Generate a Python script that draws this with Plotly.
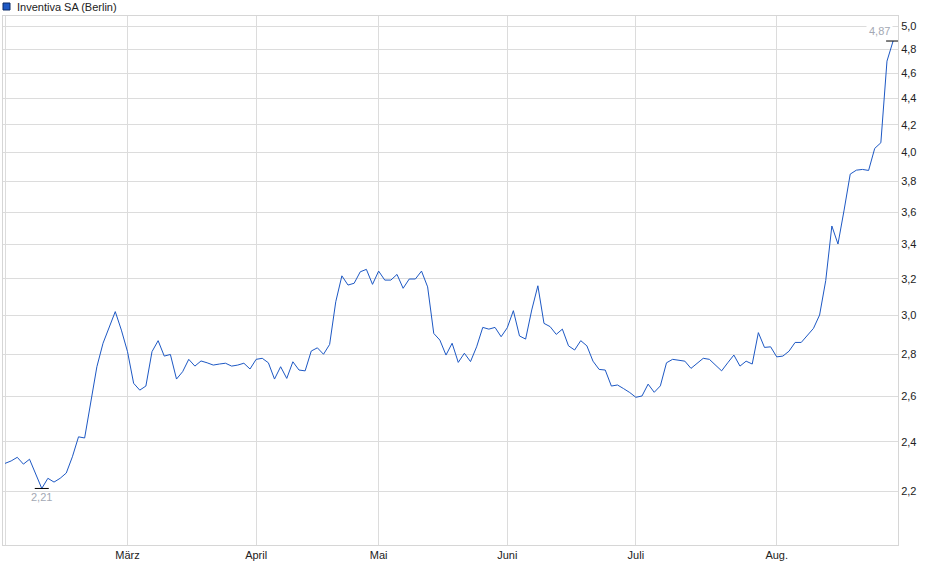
import numpy as np
import plotly.graph_objects as go

# daily closing prices (Berlin), one value per trading day, Feb - Aug
prices = [2.31, 2.32, 2.335, 2.307, 2.327, 2.27, 2.21, 2.25, 2.235, 2.25,
          2.271, 2.337, 2.421, 2.416, 2.569, 2.74, 2.856, 2.941, 3.02, 2.923,
          2.814, 2.661, 2.629, 2.648, 2.814, 2.869, 2.792, 2.80, 2.681, 2.716,
          2.776, 2.743, 2.768, 2.759, 2.748, 2.753, 2.757, 2.743, 2.748, 2.757,
          2.729, 2.776, 2.781, 2.759, 2.681, 2.74, 2.684, 2.764, 2.724, 2.72,
          2.817, 2.833, 2.801, 2.85, 3.073, 3.217, 3.165, 3.175, 3.24, 3.254,
          3.169, 3.244, 3.193, 3.193, 3.225, 3.147, 3.199, 3.199, 3.244, 3.155,
          2.906, 2.872, 2.797, 2.856, 2.761, 2.806, 2.765, 2.838, 2.937, 2.928,
          2.937, 2.889, 2.935, 3.025, 2.893, 2.877, 3.029, 3.161, 2.958, 2.941,
          2.901, 2.928, 2.843, 2.822, 2.869, 2.843, 2.767, 2.727, 2.724, 2.648,
          2.653, 2.636, 2.618, 2.596, 2.602, 2.657, 2.619, 2.649, 2.759, 2.776,
          2.772, 2.767, 2.732, 2.757, 2.781, 2.776, 2.748, 2.72, 2.759, 2.797,
          2.743, 2.767, 2.753, 2.91, 2.835, 2.838, 2.788, 2.792, 2.816, 2.86,
          2.86, 2.898, 2.932, 3.002, 3.19, 3.513, 3.403, 3.613, 3.85, 3.877,
          3.882, 3.875, 4.029, 4.069, 4.70, 4.87]

# first trading day of each month (index into prices)
month_pos = [0, 20, 41, 61, 82, 103, 126]
month_labels = ["", "März", "April", "Mai", "Juni", "Juli", "Aug."]

y_ticks = [2.2, 2.4, 2.6, 2.8, 3.0, 3.2, 3.4, 3.6, 3.8, 4.0, 4.2, 4.4, 4.6, 4.8, 5.0]

series_name = "Inventiva SA (Berlin)"

days = np.arange(len(prices))
lo_i = int(np.argmin(prices))
hi_i = int(np.argmax(prices))

def fmt(v):
    return f"{v:.2f}".replace(".", ",")

fig = go.Figure()

fig.add_trace(go.Scatter(x=days, y=prices, mode="lines",
                         line=dict(color="#1d58c4", width=1),
                         showlegend=False, hoverinfo="skip"))

# small black markers at min and max
fig.add_trace(go.Scatter(x=[days[lo_i], days[hi_i]], y=[prices[lo_i], prices[hi_i]],
                         mode="markers",
                         marker=dict(symbol="line-ew", size=10,
                                     line=dict(color="black", width=1)),
                         showlegend=False, hoverinfo="skip"))

fig.add_annotation(x=days[lo_i], y=np.log10(prices[lo_i]), text=fmt(prices[lo_i]),
                   showarrow=False, xanchor="center", yanchor="top", yshift=-1,
                   font=dict(size=11, color="#a3a8b4"))
fig.add_annotation(x=days[hi_i], y=np.log10(prices[hi_i]), text=fmt(prices[hi_i]),
                   showarrow=False, xanchor="right", yanchor="bottom", xshift=0, yshift=1,
                   bgcolor="white", borderpad=2,
                   font=dict(size=11, color="#a3a8b4"))

# legend box top left
fig.add_shape(type="rect", xref="paper", yref="paper",
              x0=0.0, x1=7 / 895, y0=(545 - 10) / 529, y1=(545 - 3) / 529,
              fillcolor="#1d58c4", line=dict(color="#0b2a66", width=1))
fig.add_annotation(xref="paper", yref="paper", x=12 / 895, y=(545 - 7) / 529,
                   text=series_name, showarrow=False, xanchor="left", yanchor="middle",
                   font=dict(size=11, color="#222222"))

fig.update_layout(
    width=940, height=579,
    margin=dict(l=3, r=42, t=16, b=34),
    paper_bgcolor="white", plot_bgcolor="white",
    font=dict(family="Liberation Sans, Arial, sans-serif", size=11, color="#222222"),
    separators=",.",
    showlegend=False,
)

fig.update_xaxes(range=[-0.33, 145.8], tickvals=month_pos, ticktext=month_labels,
                 showgrid=True, gridcolor="#dcdcdc", gridwidth=1,
                 showline=True, linecolor="#d6d6d6", mirror=True,
                 ticks="", zeroline=False, fixedrange=True)

fig.update_yaxes(type="log", range=[np.log10(2.0), np.log10(5.09)],
                 tickvals=y_ticks, tickformat=".1f", side="right",
                 showgrid=True, gridcolor="#dcdcdc", gridwidth=1,
                 showline=True, linecolor="#d6d6d6", mirror=True,
                 ticks="", zeroline=False, fixedrange=True)

# drop the default page margin so the chart sits at the window's corner
fig.write_html("out.html", config={"displayModeBar": False},
               post_script="document.body.style.margin='0';")
